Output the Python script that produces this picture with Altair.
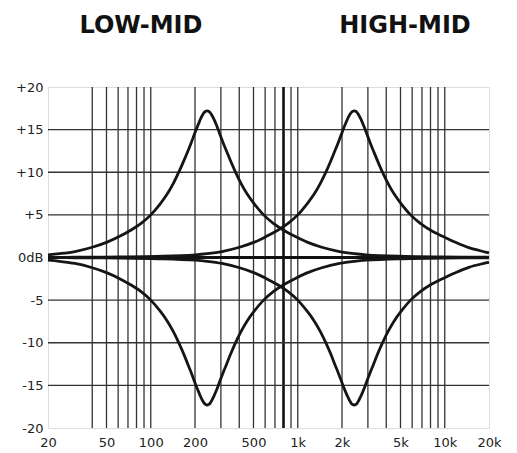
import altair as alt
import pandas as pd

# ---- data ----
LOW_FREQ = [20, 24, 30.5, 40, 50.5, 61, 73, 86, 100, 116, 130, 142.5, 156, 167.5, 179.5, 188, 196.5, 203.5,
            211, 218, 225.5, 231, 236.5, 242,
            247.5, 253.5, 259.5, 268.5, 278, 287.5, 297.5, 311.5, 326.5, 350, 375, 411, 450.5, 505.5,
            586, 682, 801, 963, 1158, 1458, 1922, 2420, 2909, 4828, 9632, 20000]
LOW_BOOST = [0.32, 0.45, 0.7, 1.2, 1.8, 2.45, 3.2, 4.0, 5.0, 6.3, 7.5, 8.7, 10.1, 11.3, 12.55, 13.4, 14.3, 15.0,
             15.65, 16.25, 16.75, 17.0, 17.15, 17.2,
             17.15, 17.0, 16.75, 16.25, 15.65, 15.0, 14.3, 13.4, 12.55, 11.3, 10.1, 8.7, 7.5, 6.3,
             5.0, 4.0, 3.2, 2.45, 1.8, 1.2, 0.7, 0.45, 0.32, 0.15, 0.06, 0.03]
LOW_CUT = [-0.32, -0.45, -0.7, -1.2, -1.8, -2.45, -3.2, -4.0, -5.0, -6.3, -7.5, -8.7, -10.1, -11.3, -12.6, -13.45, -14.35, -15.05,
           -15.7, -16.3, -16.8, -17.1, -17.25, -17.3,
           -17.25, -17.1, -16.8, -16.3, -15.7, -15.05, -14.35, -13.45, -12.6, -11.3, -10.1, -8.7, -7.5, -6.3,
           -5.0, -4.0, -3.2, -2.45, -1.8, -1.2, -0.7, -0.45, -0.32, -0.15, -0.06, -0.03]

HIGH_FREQ = [20, 30.5, 61, 121, 201, 242, 305, 402, 506, 608, 731, 859, 1000, 1158, 1300, 1425, 1562, 1675,
             1794, 1879, 1967, 2035, 2108, 2182, 2257, 2311, 2366, 2420,
             2476, 2534, 2594, 2684, 2778, 2877, 2977, 3117, 3265, 3497, 3749, 4109, 4506, 5055,
             5859, 6820, 8013, 9634, 11580, 14580, 20000]
HIGH_BOOST = [0.02, 0.03, 0.06, 0.15, 0.32, 0.45, 0.7, 1.2, 1.8, 2.45, 3.2, 4.0, 5.0, 6.3, 7.5, 8.7, 10.1, 11.3,
              12.55, 13.4, 14.3, 15.0, 15.65, 16.25, 16.75, 17.0, 17.15, 17.2,
              17.15, 17.0, 16.75, 16.25, 15.65, 15.0, 14.3, 13.4, 12.55, 11.3, 10.1, 8.7, 7.5, 6.3,
              5.0, 4.0, 3.2, 2.5, 1.85, 1.15, 0.55]
HIGH_CUT = [-0.02, -0.03, -0.06, -0.15, -0.32, -0.45, -0.7, -1.2, -1.8, -2.45, -3.2, -4.0, -5.0, -6.3, -7.5, -8.7, -10.1, -11.3,
            -12.6, -13.45, -14.35, -15.05, -15.7, -16.3, -16.8, -17.1, -17.25, -17.3,
            -17.25, -17.1, -16.8, -16.3, -15.7, -15.05, -14.35, -13.45, -12.6, -11.3, -10.1, -8.7, -7.5, -6.3,
            -5.0, -4.0, -3.2, -2.5, -1.85, -1.15, -0.55]

GRID_FREQ = [40, 50, 60, 70, 80, 90, 100, 200, 300, 400, 500, 600, 700, 900, 1000,
             2000, 3000, 4000, 5000, 6000, 7000, 8000, 9000, 10000]
MARKED_FREQ = [800]
X_TICKS = [20, 50, 100, 200, 500, 1000, 2000, 5000, 10000, 20000]
DB_GRID = [-15, -10, -5, 5, 10, 15]
DB_ZERO = [0]
DB_TICKS = [-20, -15, -10, -5, 0, 5, 10, 15, 20]
BAND_TITLES = ["LOW-MID", "HIGH-MID"]

rows = []
for name, fr, vals in [("low_boost", LOW_FREQ, LOW_BOOST), ("low_cut", LOW_FREQ, LOW_CUT),
                       ("high_boost", HIGH_FREQ, HIGH_BOOST), ("high_cut", HIGH_FREQ, HIGH_CUT)]:
    for f, v in zip(fr, vals):
        rows.append({"curve": name, "f": f, "db": v})
curves_df = pd.DataFrame(rows)

FONT = "DejaVu Sans"
xscale = alt.Scale(type="log", domain=[20, 20000], nice=False)
yscale = alt.Scale(domain=[-20, 20], nice=False)

x_axis = alt.Axis(values=X_TICKS, grid=False, ticks=False, domain=False, title=None,
                  labelExpr="datum.value >= 1000 ? (datum.value/1000) + 'k' : '' + datum.value",
                  labelFont=FONT, labelFontSize=13, labelColor="#222", labelPadding=8,
                  labelFlush=False, labelOverlap=False)
y_axis = alt.Axis(values=DB_TICKS, grid=False, ticks=False, domain=False, title=None,
                  labelExpr="datum.value > 0 ? '+' + datum.value : (datum.value == 0 ? '0dB' : '' + datum.value)",
                  labelFont=FONT, labelFontSize=13, labelColor="#222", labelPadding=5)

X = alt.X("f:Q", scale=xscale, axis=x_axis)
Y = alt.Y("db:Q", scale=yscale, axis=y_axis)

vgrid = alt.Chart(pd.DataFrame({"f": GRID_FREQ})).mark_rule(color="#333", strokeWidth=1.3).encode(x=X)
vmark = alt.Chart(pd.DataFrame({"f": MARKED_FREQ})).mark_rule(color="#111", strokeWidth=2.6).encode(x=X)
hgrid = alt.Chart(pd.DataFrame({"db": DB_GRID})).mark_rule(color="#333", strokeWidth=1.3).encode(y=Y)
hzero = alt.Chart(pd.DataFrame({"db": DB_ZERO})).mark_rule(color="#111", strokeWidth=3).encode(y=Y)

lines = alt.Chart(curves_df).mark_line(color="#151515", strokeWidth=2.8, interpolate="catmull-rom").encode(
    x=X, y=Y, detail="curve:N",
)

def band_title(label, px):
    return alt.Chart(pd.DataFrame({"t": [label]})).mark_text(
        font=FONT, fontSize=24, fontWeight="bold", color="#111", baseline="alphabetic", align="center"
    ).encode(x=alt.value(px), y=alt.value(-54), text="t:N")

chart = alt.layer(vgrid, vmark, hgrid, hzero, lines,
                  band_title(BAND_TITLES[0], 93), band_title(BAND_TITLES[1], 357)).properties(
    width=441, height=341,
    padding={"left": 40, "top": 79, "right": 20, "bottom": 22},
    autosize="none",
).configure_view(stroke="#222", strokeWidth=1.5).configure(background="white")

chart.save("out.html", embed_options={"renderer": "svg", "actions": False})
